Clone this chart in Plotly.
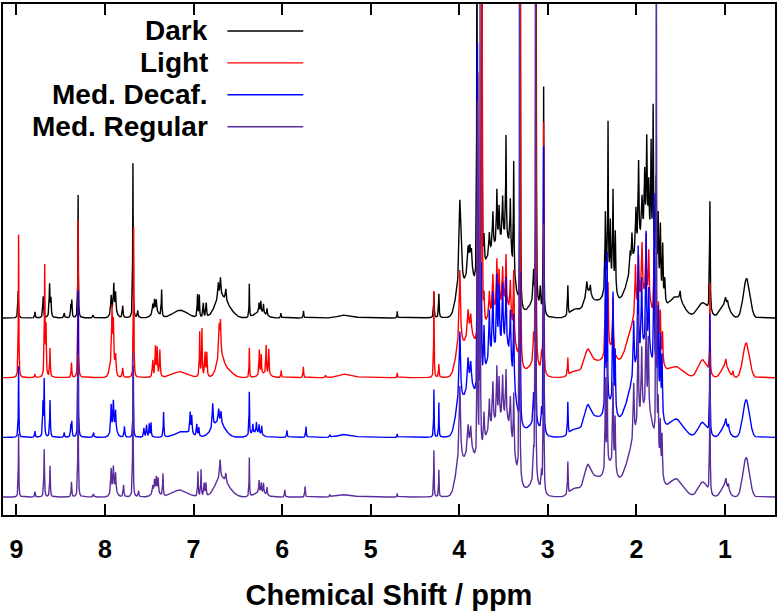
import numpy as np
import plotly.graph_objects as go

# ---------------- data ----------------
SERIES_NAMES = ["Dark", "Light", "Med. Decaf.", "Med. Regular"]
SERIES_COLORS = ["#000000", "#ff0000", "#0000ff", "#5a2d9c"]
OFFSETS = [3.0, 2.0, 1.0, 0.0]          # vertical stacking offsets
X_TICKS = [1, 2, 3, 4, 5, 6, 7, 8, 9]
X_RANGE = [9.151, 0.435]
Y_RANGE = [-0.30, 8.26]
PPM_STEP = 0.001

# sharp resonances: (ppm, height, half-width ppm)
DARK_PEAKS = [
    (8.98, 0.45, 0.004), (8.79, 0.10, 0.004), (8.697, 0.36, 0.005), (8.625, 0.55, 0.005),
    (8.61, 0.30, 0.005), (8.46, 0.08, 0.005), (8.385, 0.20, 0.004), (8.374, 0.28, 0.004),
    (8.303, 2.06, 0.003), (8.134, 0.05, 0.005), (7.93, 0.30, 0.005), (7.90, 0.44, 0.005),
    (7.88, 0.32, 0.005), (7.80, 0.20, 0.005), (7.684, 2.59, 0.003), (7.63, 0.12, 0.005),
    (7.46, 0.15, 0.005), (7.44, 0.20, 0.005), (7.42, 0.20, 0.005), (7.36, 0.45, 0.004),
    (6.955, 0.38, 0.004), (6.935, 0.37, 0.004), (6.89, 0.24, 0.005), (6.857, 0.24, 0.005),
    (6.72, 0.25, 0.006), (6.696, 0.30, 0.006), (6.635, 0.20, 0.006), (6.37, 0.56, 0.003),
    (6.26, 0.15, 0.004), (6.24, 0.18, 0.004), (6.21, 0.15, 0.004), (6.17, 0.12, 0.004),
    (6.013, 0.08, 0.004), (5.758, 0.12, 0.004), (4.70, 0.11, 0.003),
    (4.286, 0.43, 0.004), (4.23, 0.40, 0.004), (3.993, 1.30, 0.008), (3.975, 0.50, 0.008),
    (3.90, 0.40, 0.008), (3.88, 0.35, 0.008), (3.862, 0.35, 0.008), (3.800, 6.80, 0.003),
    (3.742, 5.00, 0.003), (3.76, 0.50, 0.006), (3.72, 0.50, 0.006), (3.66, 0.35, 0.006),
    (3.62, 0.60, 0.006), (3.575, 0.90, 0.005), (3.55, 0.60, 0.006), (3.51, 0.70, 0.006),
    (3.472, 1.70, 0.004), (3.423, 0.90, 0.006), (3.385, 1.90, 0.004), (3.31, 5.50, 0.003),
    (3.16, 0.50, 0.006), (3.131, 5.50, 0.003), (3.085, 0.35, 0.006), (3.047, 3.80, 0.003),
    (2.774, 0.50, 0.004), (2.56, 0.20, 0.006), (2.52, 0.15, 0.006), (2.35, 1.30, 0.005),
    (2.32, 2.70, 0.004), (2.294, 1.00, 0.005), (2.264, 1.60, 0.005), (2.238, 1.00, 0.005),
    (2.07, 0.30, 0.006), (2.05, 0.50, 0.006), (2.005, 0.70, 0.006), (1.975, 1.35, 0.005),
    (1.936, 0.60, 0.006), (1.906, 0.95, 0.005), (1.883, 1.50, 0.005), (1.861, 0.80, 0.005),
    (1.834, 1.60, 0.004), (1.811, 2.40, 0.004), (1.777, 1.50, 0.004), (1.754, 1.10, 0.005),
    (1.729, 1.10, 0.005), (1.703, 0.90, 0.005), (1.68, 0.40, 0.006), (1.506, 0.15, 0.006),
    (1.17, 1.85, 0.004), (0.993, 0.12, 0.008), (0.97, 0.10, 0.008),
]
LIGHT_PEAKS = [
    (8.975, 2.40, 0.003), (8.79, 0.06, 0.004), (8.68, 1.85, 0.004), (8.665, 0.80, 0.004),
    (8.62, 0.48, 0.004), (8.378, 0.25, 0.004), (8.303, 2.64, 0.003), (7.92, 0.90, 0.005),
    (7.905, 0.70, 0.005), (7.88, 0.30, 0.006), (7.80, 0.16, 0.005), (7.676, 2.53, 0.003),
    (7.46, 0.28, 0.005), (7.43, 0.50, 0.005), (7.41, 0.48, 0.005), (7.38, 0.45, 0.005),
    (6.93, 0.75, 0.004), (6.905, 0.80, 0.004), (6.87, 0.40, 0.005), (6.85, 0.40, 0.005),
    (6.71, 0.50, 0.006), (6.696, 0.55, 0.006), (6.37, 0.50, 0.003), (6.257, 0.42, 0.004),
    (6.235, 0.33, 0.004), (6.18, 0.48, 0.004), (6.15, 0.43, 0.004), (6.01, 0.12, 0.004),
    (5.76, 0.18, 0.004), (5.51, 0.04, 0.005), (4.70, 0.08, 0.003),
    (4.286, 1.45, 0.003), (4.23, 0.22, 0.004), (3.993, 1.20, 0.008), (3.90, 0.40, 0.008),
    (3.87, 0.30, 0.008), (3.79, 4.50, 0.003), (3.742, 7.50, 0.003), (3.72, 0.50, 0.006),
    (3.66, 0.40, 0.006), (3.62, 0.60, 0.006), (3.575, 0.80, 0.005), (3.55, 0.60, 0.006),
    (3.51, 0.60, 0.006), (3.472, 0.80, 0.005), (3.423, 0.60, 0.006), (3.385, 1.10, 0.005),
    (3.31, 7.50, 0.003), (3.16, 0.45, 0.006), (3.135, 7.50, 0.003), (3.07, 0.30, 0.006),
    (3.047, 4.20, 0.003), (2.774, 0.30, 0.004), (2.35, 0.90, 0.005), (2.32, 1.10, 0.005),
    (2.264, 0.90, 0.005), (2.01, 0.80, 0.006), (1.975, 0.80, 0.006), (1.936, 0.90, 0.006),
    (1.89, 1.00, 0.005), (1.86, 0.80, 0.005), (1.80, 1.20, 0.005), (1.777, 0.90, 0.005),
    (1.75, 0.70, 0.005), (1.73, 0.70, 0.005), (1.705, 0.50, 0.005), (1.17, 1.50, 0.003),
    (0.99, 0.12, 0.006), (0.91, 0.10, 0.006),
]
DECAF_PEAKS = [
    (8.975, 1.19, 0.003), (8.79, 0.10, 0.004), (8.686, 0.95, 0.004), (8.70, 0.55, 0.004),
    (8.62, 0.62, 0.004), (8.46, 0.08, 0.004), (8.385, 0.20, 0.004), (8.374, 0.25, 0.004),
    (8.303, 2.46, 0.003), (8.13, 0.08, 0.005), (7.93, 0.45, 0.005), (7.905, 0.45, 0.005),
    (7.88, 0.32, 0.005), (7.78, 0.18, 0.005), (7.68, 1.20, 0.003), (7.56, 0.15, 0.005),
    (7.53, 0.20, 0.005), (7.50, 0.22, 0.004), (7.48, 0.24, 0.004), (7.338, 0.42, 0.004),
    (7.038, 0.35, 0.005), (7.02, 0.30, 0.005), (6.963, 0.20, 0.005), (6.94, 0.15, 0.005),
    (6.783, 0.40, 0.006), (6.716, 0.22, 0.006), (6.69, 0.20, 0.006), (6.37, 0.72, 0.003),
    (6.33, 0.15, 0.004), (6.29, 0.17, 0.004), (6.26, 0.15, 0.004), (6.23, 0.15, 0.004),
    (5.945, 0.12, 0.004), (5.73, 0.18, 0.004), (5.46, 0.04, 0.005), (4.70, 0.06, 0.003),
    (4.286, 0.80, 0.003), (4.23, 0.58, 0.003), (3.993, 1.10, 0.008), (3.90, 0.45, 0.008),
    (3.87, 0.35, 0.008), (3.794, 5.86, 0.003), (3.75, 2.00, 0.004), (3.72, 0.80, 0.006),
    (3.66, 0.80, 0.006), (3.62, 1.00, 0.006), (3.575, 1.20, 0.005), (3.55, 1.00, 0.006),
    (3.51, 1.00, 0.006), (3.472, 1.10, 0.005), (3.423, 0.85, 0.006), (3.385, 1.20, 0.005),
    (3.31, 2.50, 0.003), (3.16, 0.50, 0.006), (3.135, 2.50, 0.003), (3.07, 0.35, 0.006),
    (3.047, 4.80, 0.003), (2.774, 0.55, 0.004), (2.35, 2.40, 0.004), (2.33, 2.50, 0.004),
    (2.264, 1.90, 0.005), (2.24, 1.00, 0.005), (2.03, 0.90, 0.006), (1.98, 1.90, 0.005),
    (1.94, 1.20, 0.006), (1.89, 1.90, 0.005), (1.86, 1.00, 0.005), (1.80, 3.00, 0.004),
    (1.777, 1.50, 0.004), (1.754, 1.50, 0.005), (1.73, 1.20, 0.005), (1.71, 1.00, 0.005),
    (1.17, 2.00, 0.003), (0.99, 0.12, 0.006), (0.96, 0.10, 0.006),
]
REGULAR_PEAKS = [
    (8.975, 1.06, 0.003), (8.79, 0.09, 0.004), (8.686, 0.80, 0.004), (8.62, 0.52, 0.004),
    (8.378, 0.25, 0.004), (8.303, 2.40, 0.003), (8.13, 0.05, 0.005), (7.93, 0.40, 0.005),
    (7.905, 0.38, 0.005), (7.88, 0.30, 0.005), (7.79, 0.20, 0.005), (7.684, 2.41, 0.003),
    (7.62, 0.10, 0.005), (7.46, 0.12, 0.005), (7.44, 0.20, 0.005), (7.42, 0.25, 0.005),
    (7.40, 0.25, 0.005), (7.345, 0.38, 0.004), (6.95, 0.42, 0.004), (6.915, 0.45, 0.004),
    (6.88, 0.22, 0.005), (6.86, 0.22, 0.005), (6.70, 0.30, 0.006), (6.635, 0.15, 0.006),
    (6.37, 0.65, 0.003), (6.26, 0.20, 0.004), (6.235, 0.16, 0.004), (6.21, 0.17, 0.004),
    (6.17, 0.13, 0.004), (5.97, 0.12, 0.004), (5.74, 0.18, 0.004), (5.46, 0.04, 0.005),
    (4.70, 0.06, 0.003),
    (4.286, 0.78, 0.003), (4.23, 0.45, 0.003), (3.993, 1.20, 0.008), (3.90, 0.40, 0.008),
    (3.87, 0.35, 0.008), (3.794, 5.92, 0.003), (3.765, 7.80, 0.003), (3.72, 0.50, 0.006),
    (3.66, 0.50, 0.006), (3.62, 0.70, 0.006), (3.575, 0.90, 0.005), (3.55, 0.70, 0.006),
    (3.51, 0.70, 0.006), (3.472, 0.80, 0.005), (3.423, 0.60, 0.006), (3.385, 1.00, 0.005),
    (3.32, 9.00, 0.003), (3.16, 0.45, 0.006), (3.14, 9.00, 0.003), (3.07, 0.30, 0.006),
    (3.047, 4.50, 0.003), (2.774, 0.55, 0.004), (2.35, 1.50, 0.004), (2.33, 1.70, 0.004),
    (2.264, 1.40, 0.005), (2.24, 0.90, 0.005), (2.03, 0.90, 0.006), (1.98, 1.80, 0.005),
    (1.94, 1.10, 0.006), (1.89, 1.50, 0.005), (1.865, 1.20, 0.005), (1.775, 10.0, 0.003),
    (1.754, 0.90, 0.005), (1.73, 0.80, 0.005), (1.71, 0.70, 0.005), (1.17, 2.35, 0.003),
    (0.99, 0.12, 0.006), (0.96, 0.10, 0.006),
]

# broad envelopes under the sharp lines: (ppm, height, sigma ppm)
DARK_HUMPS = [
    (7.90, 0.12, 0.03), (7.43, 0.10, 0.04), (7.15, 0.13, 0.08), (6.70, 0.33, 0.06),
    (6.60, 0.12, 0.06), (6.25, 0.10, 0.06), (5.28, 0.05, 0.08), (4.00, 0.50, 0.04),
    (3.89, 0.60, 0.05), (3.60, 1.15, 0.14), (3.45, 0.60, 0.06), (3.15, 0.25, 0.06),
    (2.68, 0.15, 0.06), (2.55, 0.35, 0.04), (2.45, 0.25, 0.06), (2.30, 0.50, 0.06),
    (1.98, 1.00, 0.12), (1.85, 0.80, 0.08), (1.55, 0.35, 0.08), (1.25, 0.25, 0.06),
    (1.00, 0.22, 0.05), (0.755, 0.66, 0.037),
]
LIGHT_HUMPS = [
    (7.92, 0.25, 0.025), (7.15, 0.10, 0.08), (6.70, 0.30, 0.04), (6.62, 0.12, 0.06),
    (6.20, 0.06, 0.06), (5.28, 0.06, 0.08), (4.00, 0.50, 0.04), (3.89, 0.55, 0.05),
    (3.60, 1.10, 0.15), (3.45, 0.50, 0.06), (3.15, 0.20, 0.06), (2.68, 0.12, 0.06),
    (2.55, 0.40, 0.04), (2.45, 0.25, 0.06), (2.30, 0.45, 0.06), (1.98, 1.00, 0.12),
    (1.85, 0.70, 0.08), (1.55, 0.18, 0.08), (1.25, 0.30, 0.05), (1.00, 0.20, 0.04),
    (0.76, 0.58, 0.037),
]
DECAF_HUMPS = [
    (7.90, 0.15, 0.03), (7.12, 0.10, 0.08), (6.72, 0.25, 0.07), (6.30, 0.08, 0.06),
    (5.28, 0.05, 0.08), (4.00, 0.55, 0.04), (3.89, 0.65, 0.05), (3.60, 1.40, 0.15),
    (3.45, 0.60, 0.06), (3.15, 0.20, 0.06), (2.68, 0.15, 0.06), (2.55, 0.45, 0.04),
    (2.45, 0.30, 0.06), (2.30, 0.50, 0.06), (1.98, 1.05, 0.12), (1.85, 0.80, 0.08),
    (1.55, 0.30, 0.08), (1.25, 0.25, 0.05), (1.00, 0.20, 0.04), (0.76, 0.63, 0.037),
]
REGULAR_HUMPS = [
    (7.90, 0.12, 0.03), (7.43, 0.08, 0.04), (7.15, 0.12, 0.08), (6.70, 0.30, 0.06),
    (6.60, 0.10, 0.06), (6.25, 0.08, 0.06), (5.28, 0.04, 0.08), (4.00, 0.55, 0.04),
    (3.89, 0.60, 0.05), (3.60, 1.20, 0.15), (3.45, 0.50, 0.06), (3.15, 0.20, 0.06),
    (2.68, 0.15, 0.06), (2.55, 0.45, 0.04), (2.45, 0.30, 0.06), (2.30, 0.50, 0.06),
    (1.98, 1.00, 0.12), (1.85, 0.80, 0.08), (1.55, 0.30, 0.08), (1.25, 0.25, 0.05),
    (1.00, 0.20, 0.04), (0.76, 0.66, 0.037),
]

SERIES_PEAKS = [DARK_PEAKS, LIGHT_PEAKS, DECAF_PEAKS, REGULAR_PEAKS]
SERIES_HUMPS = [DARK_HUMPS, LIGHT_HUMPS, DECAF_HUMPS, REGULAR_HUMPS]


def spectrum(ppm, peaks, humps):
    y = np.zeros_like(ppm)
    for c, h, w in peaks:
        y += h * w * w / ((ppm - c) ** 2 + w * w)
    for c, h, s in humps:
        y += h * np.exp(-0.5 * ((ppm - c) / s) ** 2)
    return y


ppm = np.arange(X_RANGE[1], X_RANGE[0] + PPM_STEP, PPM_STEP)

fig = go.Figure()
for name, color, off, pk, hp in zip(SERIES_NAMES, SERIES_COLORS, OFFSETS,
                                    SERIES_PEAKS, SERIES_HUMPS):
    fig.add_trace(go.Scatter(
        x=ppm, y=off + spectrum(ppm, pk, hp), mode="lines", name=name,
        line=dict(color=color, width=1.4), showlegend=False, hoverinfo="skip",
    ))

FONT = "Liberation Sans, Arial, Helvetica, sans-serif"

# gnuplot-style key: right-aligned label followed by a line sample
key_y = [0.9473, 0.8848, 0.8223, 0.7598]
for name, color, ky in zip(SERIES_NAMES, SERIES_COLORS, key_y):
    fig.add_annotation(x=0.2687, y=ky, xref="paper", yref="paper", text=name,
                       showarrow=False, xanchor="right", yanchor="middle",
                       font=dict(family=FONT, size=28, color="black", weight="bold"))
    fig.add_shape(type="line", xref="paper", yref="paper", x0=0.2907, x1=0.3889,
                  y0=ky, y1=ky, line=dict(color=color, width=1.4))

fig.update_layout(
    width=779, height=611,
    margin=dict(l=3, r=2, t=3, b=96),
    paper_bgcolor="white", plot_bgcolor="white",
    font=dict(family=FONT, color="black"),
    xaxis=dict(
        range=X_RANGE, tickvals=X_TICKS, ticktext=[str(t) for t in X_TICKS],
        ticks="inside", ticklen=11, tickwidth=2, tickcolor="black",
        showline=True, linewidth=2, linecolor="black", mirror="ticks",
        showgrid=False, zeroline=False,
        tickfont=dict(family=FONT, size=25, color="black", weight="bold"),
        ticklabelstandoff=11,
        title=dict(text="Chemical Shift / ppm", standoff=23,
                   font=dict(family=FONT, size=29, color="black", weight="bold")),
    ),
    yaxis=dict(
        range=Y_RANGE, showline=True, linewidth=2, linecolor="black", mirror=True,
        ticks="", showticklabels=False, showgrid=False, zeroline=False,
    ),
)

fig.write_html("out.html", config={"displayModeBar": False},
               post_script="document.body.style.margin='0';")
